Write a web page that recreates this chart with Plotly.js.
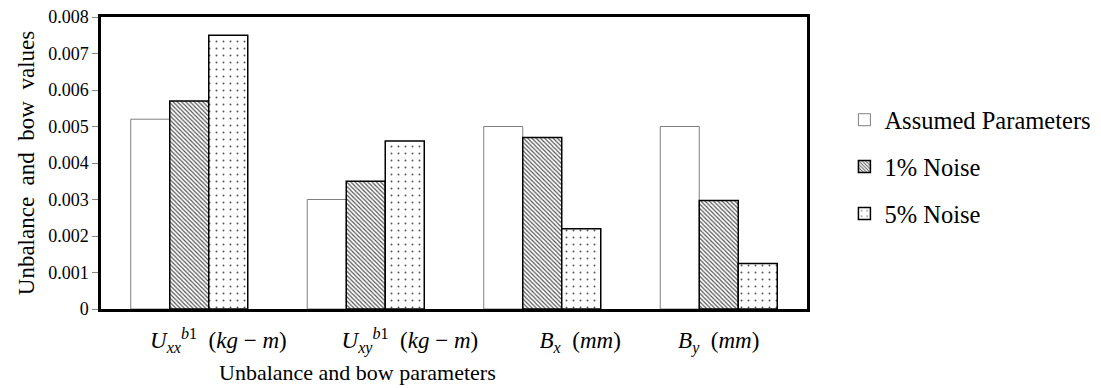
<!DOCTYPE html>
<html>
<head>
<meta charset="utf-8">
<script src="https://cdn.plot.ly/plotly-3.0.1.min.js"></script>
<style>
  html, body { margin: 0; padding: 0; background: #fff; }
  #chart { width: 1101px; height: 388px; }
</style>
</head>
<body>
<div id="chart"></div>
<script>
// ---- data ----
const categories = ['Uxx_b1', 'Uxy_b1', 'Bx', 'By'];
const tickLabels = [
  '<i>U</i><sub><i>xx</i></sub><sup><i>b</i>1</sup>  (<i>kg</i> \u2212 <i>m</i>)',
  '<i>U</i><sub><i>xy</i></sub><sup><i>b</i>1</sup>  (<i>kg</i> \u2212 <i>m</i>)',
  '<i>B</i><sub><i>x</i></sub>  (<i>mm</i>)',
  '<i>B</i><sub><i>y</i></sub>  (<i>mm</i>)'
];
const seriesNames = ['Assumed Parameters', '1% Noise', '5% Noise'];
const assumed = [0.0052, 0.0030, 0.0050, 0.0050];
const noise1  = [0.0057, 0.0035, 0.0047, 0.00297];
const noise5  = [0.0075, 0.0046, 0.0022, 0.00125];
const yTickVals = [0, 0.001, 0.002, 0.003, 0.004, 0.005, 0.006, 0.007, 0.008];
const yTickText = ['0', '0.001', '0.002', '0.003', '0.004', '0.005', '0.006', '0.007', '0.008'];
const xTitle = 'Unbalance and bow parameters';
const yTitle = 'Unbalance\u00a0 and\u00a0 bow\u00a0 values';

// ---- style ----
const FONT = 'Liberation Serif';
const labelShift = [0.165, 0.25, 0.215, 0.0]; // horizontal nudge of category labels (category units)
const xIdx = categories.map((c, i) => i);

const traces = [
  {
    type: 'bar', name: seriesNames[0], x: xIdx, y: assumed, legendgroup: 'a',
    marker: { color: '#ffffff', line: { color: '#7f7f7f', width: 1 } }
  },
  {
    type: 'bar', name: seriesNames[1], x: xIdx, y: noise1, legendgroup: 'b',
    marker: { color: '#ffffff', line: { color: '#000000', width: 1.5 },
      pattern: { shape: '\\', size: 3, solidity: 0.4, fgcolor: '#555555', bgcolor: '#ffffff', fillmode: 'replace' } }
  },
  {
    type: 'bar', name: seriesNames[2], x: xIdx, y: noise5, legendgroup: 'c',
    marker: { color: '#ffffff', line: { color: '#000000', width: 1.5 },
      pattern: { shape: '.', size: 7, solidity: 0.06, fgcolor: '#555555', bgcolor: '#ffffff', fillmode: 'replace' } }
  }
];

const layout = {
  width: 1101, height: 388,
  margin: { l: 101, r: 294, t: 17, b: 79, pad: 0, autoexpand: false },
  paper_bgcolor: '#ffffff', plot_bgcolor: '#ffffff',
  font: { family: FONT, color: '#000000', size: 18 },
  barmode: 'group', bargap: 0.337, bargroupgap: 0,
  showlegend: true,
  legend: {
    x: 1.053, xanchor: 'left', y: 0.725, yanchor: 'top',
    font: { family: FONT, size: 24.5, color: '#000' },
    traceorder: 'grouped', tracegroupgap: 12,
    bgcolor: 'rgba(0,0,0,0)', borderwidth: 0
  },
  xaxis: {
    type: 'linear', range: [-0.5, 3.5], fixedrange: true,
    tickmode: 'array', tickvals: xIdx.map((v, i) => v + labelShift[i]), ticktext: tickLabels,
    ticks: '', showgrid: false, zeroline: false,
    showline: true, linecolor: '#000', linewidth: 2.5, mirror: true,
    tickfont: { family: FONT, size: 23, color: '#000' },
    ticklabelstandoff: 9
  },
  yaxis: {
    range: [0, 0.008], fixedrange: true,
    tickmode: 'array', tickvals: yTickVals, ticktext: yTickText,
    ticks: 'outside', ticklen: 6, tickwidth: 1, tickcolor: '#888',
    showgrid: false, zeroline: false,
    showline: true, linecolor: '#000', linewidth: 2.5, mirror: true,
    tickfont: { family: FONT, size: 18, color: '#000' },
    title: { text: yTitle, font: { family: FONT, size: 23, color: '#000' }, standoff: 8 }
  },
  annotations: [
    {
      text: xTitle, xref: 'paper', yref: 'paper', x: 0.364, y: -0.216,
      xanchor: 'center', yanchor: 'middle', showarrow: false,
      font: { family: FONT, size: 22, color: '#000' }
    }
  ]
};

Plotly.newPlot('chart', traces, layout, { displayModeBar: false });
</script>
</body>
</html>
